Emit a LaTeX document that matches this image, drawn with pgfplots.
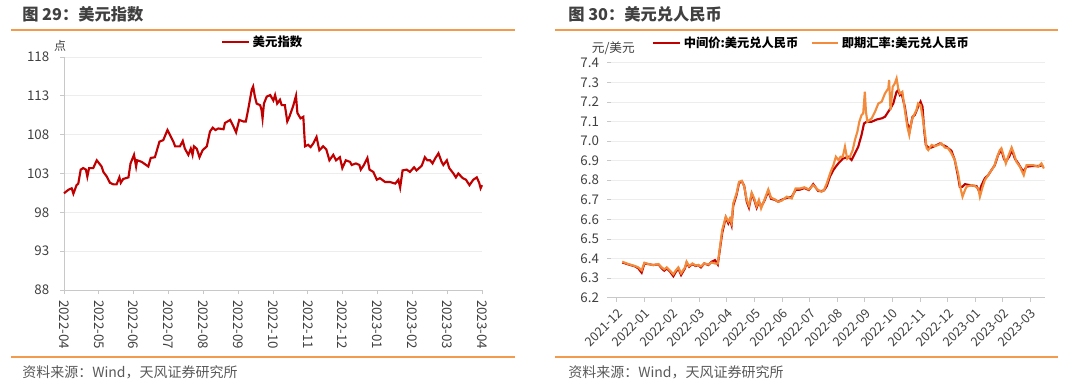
\documentclass[border=0pt]{standalone}
\usepackage{fontspec}
\setmainfont{Noto Sans CJK SC}
\usepackage{pgfplots}
\pgfplotsset{compat=1.18}
\definecolor{dred}{HTML}{C00000}
\definecolor{sorange}{HTML}{F28C3C}
\definecolor{tline}{HTML}{F39A4C}
\definecolor{txtgray}{HTML}{404040}
\definecolor{footgray}{HTML}{595959}
\definecolor{axgray}{HTML}{C8C8C8}
\definecolor{gridgray}{HTML}{EDEDED}
\begin{document}
\begin{tikzpicture}
\path[use as bounding box] (0pt,0pt) rectangle (810pt,-289.5pt);
% titles
\node[anchor=west, inner sep=0pt, font=\fontsize{12.2pt}{14pt}\selectfont\bfseries, text=txtgray] at (16.5pt,-10.5pt) {图 29：美元指数};
\node[anchor=west, inner sep=0pt, font=\fontsize{12.2pt}{14pt}\selectfont\bfseries, text=txtgray] at (426pt,-10.5pt) {图 30：美元兑人民币};
\draw[tline, line width=1.3pt] (8.25pt,-22.5pt) -- (386.25pt,-22.5pt);
\draw[tline, line width=1.3pt] (416.25pt,-22.5pt) -- (793.5pt,-22.5pt);
\draw[tline, line width=1.3pt] (8.25pt,-267.5pt) -- (386.25pt,-267.5pt);
\draw[tline, line width=1.3pt] (416.25pt,-267.5pt) -- (793.5pt,-267.5pt);
\node[anchor=west, inner sep=0pt, font=\fontsize{10.5pt}{12pt}\selectfont, text=footgray] at (16.5pt,-279pt) {资料来源：Wind，天风证券研究所};
\node[anchor=west, inner sep=0pt, font=\fontsize{10.5pt}{12pt}\selectfont, text=footgray] at (426pt,-279pt) {资料来源：Wind，天风证券研究所};
\node[inner sep=0pt, font=\fontsize{9pt}{10pt}\selectfont, text=txtgray] at (45pt,-34.5pt) {点};
\node[inner sep=0pt, font=\fontsize{9.5pt}{10pt}\selectfont, text=txtgray] at (460pt,-36pt) {元/美元};

% left chart
\begin{axis}[
  at={(48pt,-217.5pt)}, anchor=south west, scale only axis,
  width=313.5pt, height=174.75pt,
  xmin=0, xmax=12, ymin=88, ymax=118,
  ytick={88,93,98,103,108,113,118},
  xtick={0,...,12},
  xticklabels={2022-04,2022-05,2022-06,2022-07,2022-08,2022-09,2022-10,2022-11,2022-12,2023-01,2023-02,2023-03,2023-04},
  axis x line=bottom, axis y line=left,
  axis line style={draw=axgray, line width=0.6pt, -},
  ymajorgrids, grid style={gridgray, line width=0.6pt},
  tick align=outside, major tick length=3pt,
  tick style={axgray, line width=0.6pt},
  /pgf/number format/assume math mode=true,
  yticklabel style={font=\fontsize{10pt}{11pt}\selectfont, text=txtgray},
  yticklabel shift=4.5pt,
  xticklabel style={font=\fontsize{10pt}{11pt}\selectfont, text=txtgray, rotate=-90, anchor=west},
  xticklabel shift=1pt,
  clip=false,
  legend style={at={(0.3756,1.064)}, anchor=west, draw=none, fill=none, inner sep=0pt,
     font=\fontsize{9.3pt}{10pt}\selectfont\bfseries},
  legend image code/.code={\draw[#1] (0pt,0pt) -- (20pt,0pt);},
]
\addplot[dred, line width=1.6pt] coordinates {
(0,100.45) (0.125,100.9) (0.22,101.1) (0.27,100.4) (0.36,101.5) (0.41,101.7)
(0.48,103.5) (0.55,103.7) (0.63,103.5) (0.67,102.6) (0.72,103.7) (0.84,103.7)
(0.94,104.7) (1.01,104.3) (1.08,103.9) (1.13,103.2) (1.23,102.6) (1.32,101.8)
(1.42,101.6) (1.51,101.6) (1.59,102.5) (1.63,101.8) (1.70,102.3) (1.85,102.5)
(1.91,104.3) (2.01,105.4) (2.07,103.9) (2.10,104.7) (2.23,104.5) (2.42,103.9)
(2.49,105.0) (2.61,105.1) (2.74,107.1) (2.85,107.3) (2.97,108.6) (3.04,108.0)
(3.14,107.1) (3.19,106.5) (3.33,106.5) (3.41,107.2) (3.47,106.2) (3.57,105.4)
(3.64,106.2) (3.69,105.4) (3.73,106.5) (3.81,106.2) (3.89,105.1) (3.98,106.0)
(4.10,106.5) (4.19,108.4) (4.27,108.9) (4.35,108.6) (4.43,108.8) (4.58,108.7)
(4.62,109.5) (4.77,109.9) (4.84,109.3) (4.94,108.3) (5.03,109.9) (5.15,109.7)
(5.22,109.7) (5.29,111.3) (5.39,113.8) (5.43,114.2) (5.48,112.9) (5.53,112.0)
(5.63,111.8) (5.67,111.2) (5.70,110.1) (5.74,112.0) (5.82,112.9) (5.92,113.1)
(6.01,112.4) (6.06,113.1) (6.12,112.0) (6.20,112.5) (6.25,111.8) (6.34,111.8)
(6.41,109.7) (6.47,110.3) (6.58,111.7) (6.66,113.0) (6.70,110.8) (6.79,110.1)
(6.87,110.3) (6.92,106.5) (7.01,106.7) (7.08,106.4) (7.16,106.9) (7.25,107.7)
(7.33,106.0) (7.44,106.5) (7.53,106.1) (7.62,104.7) (7.73,105.4) (7.81,104.7)
(7.92,105.1) (7.99,103.7) (8.09,104.7) (8.21,104.5) (8.26,104.1) (8.38,104.3)
(8.48,104.1) (8.52,103.5) (8.61,104.1) (8.71,105.0) (8.77,103.5) (8.88,103.2)
(8.98,102.2) (9.07,102.4) (9.22,101.9) (9.36,101.9) (9.51,101.7) (9.60,102.2)
(9.65,101.2) (9.72,103.4) (9.84,103.5) (9.93,103.2) (10.05,103.8) (10.12,103.4)
(10.27,104.0) (10.36,105.1) (10.43,104.7) (10.51,104.7) (10.58,104.3) (10.65,104.9)
(10.75,105.6) (10.84,104.5) (10.89,104.1) (10.99,104.7) (11.06,103.7) (11.18,103.0)
(11.25,102.5) (11.32,103.0) (11.45,102.4) (11.54,102.2) (11.64,101.5) (11.75,102.2)
(11.85,102.5) (11.92,101.8) (11.96,101.1) (12.0,101.5)
};
\addlegendentry{美元指数}
\end{axis}

% right chart
\begin{axis}[
  at={(458.25pt,-223.3pt)}, anchor=south west, scale only axis,
  width=325.5pt, height=176.25pt,
  xmin=-0.2, xmax=15.53, ymin=6.2, ymax=7.4,
  ytick={6.2,6.3,...,7.41},
  yticklabel={\pgfmathprintnumber[fixed,fixed zerofill,precision=1]{\tick}},
  xtick={0,...,15},
  xticklabels={2021-12,2022-01,2022-02,2022-03,2022-04,2022-05,2022-06,2022-07,2022-08,2022-09,2022-10,2022-11,2022-12,2023-01,2023-02,2023-03},
  axis x line=bottom, axis y line=left,
  x axis line style={draw=axgray, line width=0.6pt, -},
  y axis line style={draw=none},
  ymajorgrids, grid style={gridgray, line width=0.6pt},
  tick align=outside, major tick length=3pt,
  tick style={axgray, line width=0.6pt},
  /pgf/number format/assume math mode=true,
  yticklabel style={font=\fontsize{10pt}{11pt}\selectfont, text=txtgray},
  yticklabel shift=2.5pt,
  xticklabel style={font=\fontsize{9.5pt}{10pt}\selectfont, text=txtgray, rotate=45, anchor=north east},
  xticklabel shift=0pt,
  clip=false,
  legend columns=2,
  legend style={at={(0.0945,1.084)}, anchor=west, draw=none, fill=none, inner sep=0pt,
     font=\fontsize{9.2pt}{10pt}\selectfont\bfseries,
     /tikz/every even column/.append style={column sep=7pt}},
  legend image code/.code={\draw[#1] (0pt,0pt) -- (20pt,0pt);},
]
\addplot[dred, line width=1.6pt] coordinates {
(0.21,6.380) (0.43,6.370) (0.67,6.360) (0.79,6.350) (0.91,6.328) (1.01,6.375)
(1.15,6.372) (1.33,6.367) (1.52,6.370) (1.64,6.350) (1.73,6.338) (1.82,6.350)
(1.94,6.333) (2.06,6.310) (2.14,6.330) (2.24,6.350) (2.34,6.316) (2.48,6.350)
(2.54,6.379) (2.63,6.358) (2.75,6.372) (2.87,6.362) (2.96,6.367) (3.06,6.355)
(3.18,6.375) (3.33,6.367) (3.45,6.384) (3.57,6.392) (3.67,6.370) (3.75,6.450)
(3.83,6.530) (3.96,6.610) (4.05,6.580) (4.11,6.600) (4.17,6.571) (4.23,6.670)
(4.35,6.725) (4.44,6.785) (4.54,6.795) (4.63,6.770) (4.72,6.690) (4.80,6.660)
(4.90,6.730) (4.99,6.700) (5.08,6.660) (5.16,6.690) (5.24,6.665) (5.36,6.695)
(5.50,6.745) (5.60,6.705) (5.74,6.700) (5.86,6.690) (5.98,6.700) (6.17,6.710)
(6.35,6.715) (6.49,6.750) (6.65,6.752) (6.81,6.760) (6.97,6.750) (7.13,6.780)
(7.31,6.745) (7.43,6.745) (7.52,6.748) (7.62,6.770) (7.74,6.820) (7.86,6.852)
(7.95,6.870) (8.04,6.886) (8.20,6.910) (8.40,6.920) (8.52,6.903) (8.64,6.937)
(8.76,6.971) (8.88,7.031) (8.97,7.090) (9.07,7.099) (9.25,7.099) (9.43,7.110)
(9.61,7.116) (9.73,7.124) (9.85,7.150) (9.93,7.167) (10.03,7.192) (10.15,7.252)
(10.21,7.260) (10.27,7.235) (10.33,7.243) (10.45,7.175) (10.54,7.090) (10.63,7.056)
(10.73,7.124) (10.81,7.133) (10.93,7.175) (11.02,7.201) (11.09,7.175) (11.15,7.056)
(11.21,6.980) (11.33,6.963) (11.48,6.971) (11.72,6.988) (11.96,6.971) (12.14,6.950)
(12.26,6.903) (12.38,6.818) (12.44,6.767) (12.54,6.767) (12.63,6.780) (12.81,6.775)
(13.05,6.770) (13.15,6.741) (13.23,6.775) (13.35,6.810) (13.47,6.826) (13.59,6.852)
(13.71,6.877) (13.83,6.929) (13.95,6.954) (14.04,6.910) (14.11,6.895) (14.23,6.920)
(14.33,6.954) (14.44,6.910) (14.56,6.886) (14.74,6.843) (14.86,6.869) (15.10,6.873)
(15.34,6.873) (15.46,6.877)
};
\addlegendentry{中间价:美元兑人民币}
\addplot[sorange, line width=1.6pt] coordinates {
(0.21,6.384) (0.43,6.372) (0.67,6.362) (0.79,6.355) (0.91,6.340) (1.01,6.379)
(1.15,6.372) (1.33,6.367) (1.52,6.372) (1.64,6.355) (1.73,6.345) (1.82,6.355)
(1.94,6.338) (2.06,6.320) (2.14,6.338) (2.24,6.355) (2.34,6.325) (2.48,6.355)
(2.54,6.384) (2.63,6.362) (2.75,6.375) (2.87,6.365) (2.96,6.367) (3.06,6.360)
(3.18,6.375) (3.33,6.370) (3.45,6.380) (3.57,6.375) (3.67,6.375) (3.75,6.460)
(3.83,6.546) (3.96,6.614) (4.05,6.590) (4.11,6.605) (4.17,6.580) (4.23,6.682)
(4.35,6.733) (4.44,6.792) (4.54,6.797) (4.63,6.767) (4.72,6.699) (4.80,6.670)
(4.90,6.736) (4.99,6.707) (5.08,6.668) (5.16,6.699) (5.24,6.656) (5.36,6.700)
(5.50,6.753) (5.60,6.712) (5.74,6.702) (5.86,6.690) (5.98,6.695) (6.17,6.716)
(6.35,6.707) (6.49,6.758) (6.65,6.758) (6.81,6.764) (6.97,6.753) (7.13,6.775)
(7.31,6.750) (7.43,6.741) (7.52,6.750) (7.62,6.784) (7.74,6.835) (7.86,6.877)
(7.95,6.920) (8.04,6.903) (8.12,6.920) (8.20,6.920) (8.28,6.971) (8.36,6.910)
(8.46,6.920) (8.56,6.954) (8.64,7.005) (8.73,7.048) (8.80,7.099) (8.88,7.133)
(8.94,7.141) (9.00,7.252) (9.04,7.150) (9.09,7.099) (9.25,7.116) (9.37,7.150)
(9.49,7.192) (9.61,7.201) (9.73,7.243) (9.85,7.269) (9.88,7.312) (9.93,7.158)
(10.01,7.277) (10.09,7.295) (10.15,7.320) (10.21,7.269) (10.27,7.243) (10.36,7.252)
(10.45,7.158) (10.54,7.073) (10.61,7.031) (10.70,7.107) (10.78,7.133) (10.87,7.158)
(10.93,7.192) (11.02,7.183) (11.09,7.124) (11.18,7.039) (11.24,6.963) (11.30,6.954)
(11.42,6.980) (11.54,6.974) (11.66,6.980) (11.78,6.988) (11.90,6.967) (12.02,6.963)
(12.14,6.937) (12.26,6.903) (12.38,6.835) (12.47,6.758) (12.54,6.716) (12.63,6.750)
(12.69,6.767) (12.87,6.775) (12.99,6.770) (13.11,6.758) (13.17,6.716) (13.27,6.767)
(13.35,6.801) (13.47,6.826) (13.59,6.852) (13.68,6.869) (13.80,6.920) (13.89,6.954)
(13.95,6.963) (14.04,6.920) (14.11,6.886) (14.19,6.920) (14.32,6.967) (14.40,6.937)
(14.49,6.895) (14.62,6.869) (14.76,6.826) (14.86,6.877) (15.10,6.877) (15.28,6.869)
(15.40,6.886) (15.49,6.860)
};
\addlegendentry{即期汇率:美元兑人民币}
\end{axis}
\end{tikzpicture}
\end{document}
